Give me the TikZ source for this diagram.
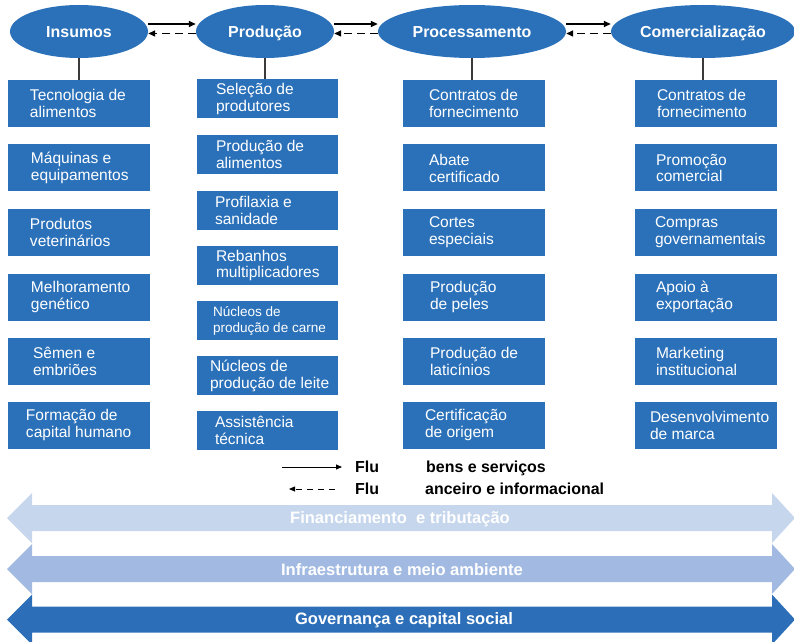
\documentclass[tikz,border=0pt]{standalone}
\usepackage{fontspec}
\setmainfont{Liberation Sans}
\usepackage{xcolor}
\usetikzlibrary{shapes.geometric,arrows.meta}
\definecolor{azul}{HTML}{2B71B9}
\definecolor{faixaA}{HTML}{C6D6EC}
\definecolor{faixaB}{HTML}{A2BAE1}
\definecolor{faixaC}{HTML}{2C6FB8}
\definecolor{traco}{HTML}{3A3A3A}

\begin{document}
\begin{tikzpicture}[x=1bp,y=-1bp,
  elo/.style={ellipse,fill=azul,inner sep=0pt,minimum height=53bp,text=white,text height=11.5bp,text depth=0bp,font=\fontsize{16}{17}\selectfont\bfseries},
  caixa/.style={rectangle,fill=azul,inner sep=0pt,minimum width=142bp},
  alta/.style={caixa,minimum height=47bp},
  baixa/.style={caixa,minimum height=39bp,minimum width=141bp},
  rot/.style={anchor=west,inner sep=0pt,xshift=#1,align=left,text=white,font=\fontsize{15.6}{17}\selectfont},
  bens/.style={draw=black,line width=1.4bp,-{Triangle[length=7bp,width=6bp]}},
  financ/.style={draw=black,line width=1.4bp,dash pattern=on 8bp off 5bp,-{Triangle[length=7bp,width=6bp]}},
  legenda/.style={anchor=base west,inner sep=0pt,font=\fontsize{16}{17}\selectfont\bfseries},
  faixa/.style={text=white,inner sep=0pt,font=\fontsize{16.6}{17}\selectfont\bfseries}]
\useasboundingbox (0,0) rectangle (794,642);

\node[elo,minimum width=138bp] (ins) at (79,31.5) {Insumos};
\node[elo,minimum width=138bp] (prod) at (265,31.5) {Produção};
\node[elo,minimum width=188bp] (proc) at (472,31.5) {Processamento};
\node[elo,minimum width=184bp] (com) at (703,31.5) {Comercialização};

\draw[bens] ([yshift=7.5bp]ins.east) -- ([yshift=7.5bp]prod.west);
\draw[financ] ([yshift=-2bp]prod.west) -- ([yshift=-2bp]ins.east);
\draw[bens] ([yshift=7.5bp]prod.east) -- ([yshift=7.5bp]proc.west);
\draw[financ] ([yshift=-2bp]proc.west) -- ([yshift=-2bp]prod.east);
\draw[bens] ([yshift=7.5bp]proc.east) -- ([yshift=7.5bp]com.west);
\draw[financ] ([yshift=-2bp]com.west) -- ([yshift=-2bp]proc.east);

\node[alta,label={[rot=22bp]west:{Tecnologia de\\alimentos}}] (i1) at (79,103.5) {};
\node[alta,label={[rot=23bp]west:{Máquinas e\\equipamentos}}] (i2) at (79,168) {};
\node[alta,label={[rot=22bp]west:{Produtos\\veterinários}}] (i3) at (79,232.5) {};
\node[alta,label={[rot=23bp]west:{Melhoramento\\genético}}] (i4) at (79,297) {};
\node[alta,label={[rot=25bp]west:{Sêmen e\\embriões}}] (i5) at (79,361) {};
\node[alta,label={[rot=18bp]west:{Formação de\\capital humano}}] (i6) at (79,425) {};

\node[baixa,label={[rot=19bp]west:{Seleção de\\produtores}}] (p1) at (267.5,99) {};
\node[baixa,label={[rot=19bp]west:{Produção de\\alimentos}}] (p2) at (267.5,154.5) {};
\node[baixa,label={[rot=18bp]west:{Profilaxia e\\sanidade}}] (p3) at (267.5,210.5) {};
\node[baixa,label={[rot=19bp]west:{Rebanhos\\multiplicadores}}] (p4) at (267.5,265.5) {};
\node[baixa,label={[rot=16bp,font=\fontsize{13.6}{16}\selectfont]west:{Núcleos de\\produção de carne}}] (p5) at (267.5,320.5) {};
\node[baixa,label={[rot=13bp]west:{Núcleos de\\produção de leite}}] (p6) at (267.5,375.5) {};
\node[baixa,label={[rot=18bp]west:{Assistência\\técnica}}] (p7) at (267.5,430.5) {};

\node[alta,label={[rot=26bp]west:{Contratos de\\fornecimento}}] (r1) at (474,103.5) {};
\node[alta,label={[rot=26bp]west:{Abate\\certificado}}] (r2) at (474,168) {};
\node[alta,label={[rot=26bp]west:{Cortes\\especiais}}] (r3) at (474,232.5) {};
\node[alta,label={[rot=27bp]west:{Produção\\de peles}}] (r4) at (474,297) {};
\node[alta,label={[rot=27bp]west:{Produção de\\laticínios}}] (r5) at (474,361) {};
\node[alta,label={[rot=22bp]west:{Certificação\\de origem}}] (r6) at (474,425) {};

\node[alta,label={[rot=22bp]west:{Contratos de\\fornecimento}}] (m1) at (706,103.5) {};
\node[alta,label={[rot=21bp]west:{Promoção\\comercial}}] (m2) at (706,168) {};
\node[alta,label={[rot=20bp]west:{Compras\\governamentais}}] (m3) at (706,232.5) {};
\node[alta,label={[rot=21bp]west:{Apoio à\\exportação}}] (m4) at (706,297) {};
\node[alta,label={[rot=21bp]west:{Marketing\\institucional}}] (m5) at (706,361) {};
\node[alta,label={[rot=15bp]west:{Desenvolvimento\\de marca}}] (m6) at (706,425) {};

\draw[traco,line width=1.2pt] (ins.south) -- (ins.south |- i1.north);
\draw[traco,line width=1.2pt] (prod.south) -- (prod.south |- p1.north);
\draw[traco,line width=1.2pt] (proc.south) -- (proc.south |- r1.north);
\draw[traco,line width=1.2pt] (com.south) -- (com.south |- m1.north);

\coordinate (s1) at (282,467);
\coordinate (s2) at (342,467);
\coordinate (t1) at (335,489);
\coordinate (t2) at (289,489);
\draw[bens,line width=0.8bp,-{Triangle[length=6bp,width=5bp]}] (s1) -- (s2);
\draw[financ,line width=0.8bp,dash pattern=on 6bp off 5bp,-{Triangle[length=6bp,width=5bp]}] (t1) -- (t2);
\node[legenda] (fa) at (355,472.5) {Flu};
\node[legenda] (fb) at (426,472.5) {bens e serviços};
\node[legenda] (ga) at (355,494.5) {Flu};
\node[legenda] (gb) at (425,494.5) {anceiro e informacional};

\fill[faixaA] (7,518) -- (32,493) -- (32,505) -- (772,505) -- (772,493) -- (795,518) -- (772,543) -- (772,531) -- (32,531) -- (32,543) -- cycle;
\node[faixa] (fin) at (400,519) {Financiamento\ \ e tributação};
\fill[faixaB] (7,569) -- (32,544) -- (32,556) -- (772,556) -- (772,544) -- (795,569) -- (772,594) -- (772,582) -- (32,582) -- (32,594) -- cycle;
\node[faixa] (inf) at (402,570) {Infraestrutura e meio ambiente};
\fill[faixaC] (7,619.5) -- (32,594.5) -- (32,606.5) -- (772,606.5) -- (772,594.5) -- (795,619.5) -- (772,644.5) -- (772,632.5) -- (32,632.5) -- (32,644.5) -- cycle;
\node[faixa] (gov) at (404,620) {Governança e capital social};
\end{tikzpicture}
\end{document}
